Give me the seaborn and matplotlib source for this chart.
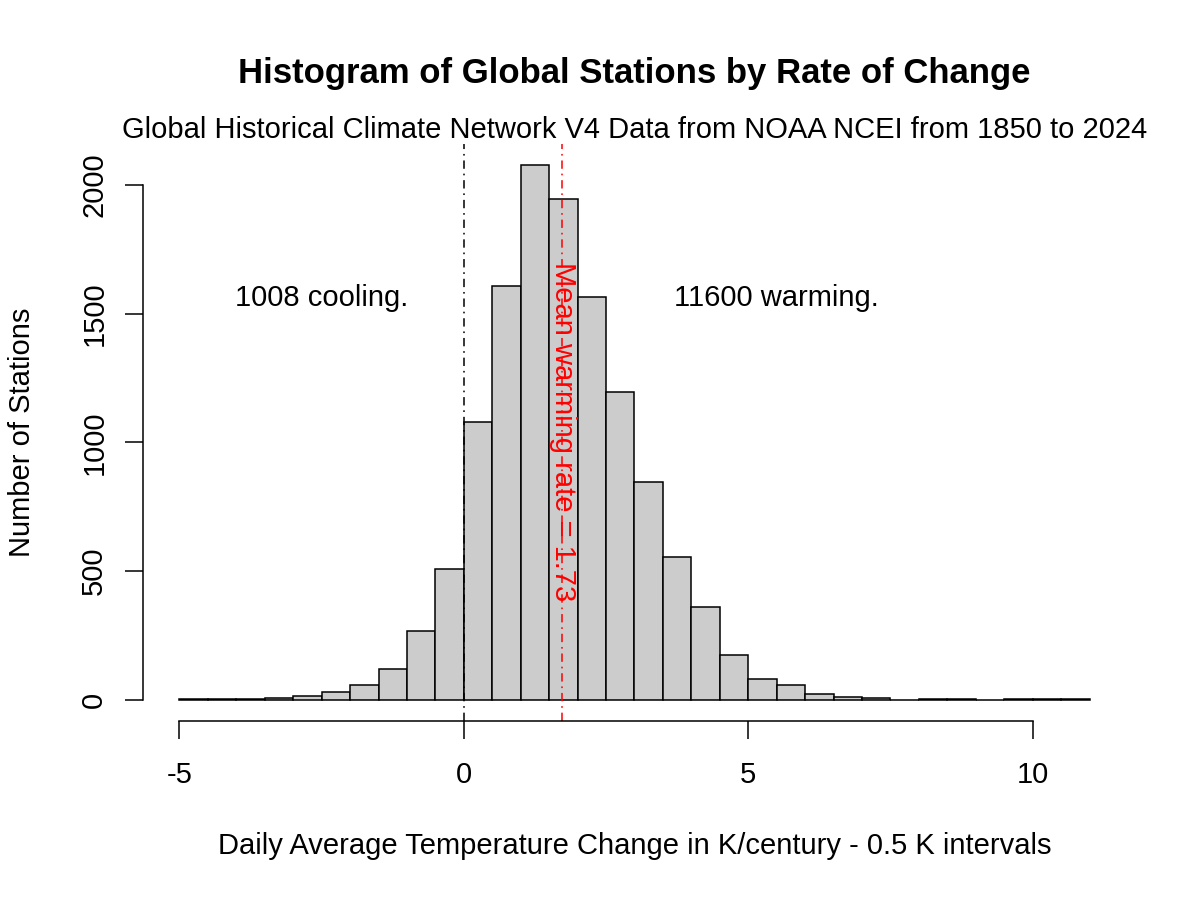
import numpy as np
import pandas as pd
import matplotlib
matplotlib.use("Agg")
import matplotlib.pyplot as plt
import seaborn as sns

# ---- data ----
bin_edges = [round(-5.0 + 0.5 * i, 1) for i in range(33)]   # -5 .. 11 in 0.5 K steps
station_counts = [1, 2, 3, 5, 15, 31, 55, 121, 267, 508,          # -5 .. 0
                  1081, 1609, 2077, 1948, 1566, 1197, 848, 553,    # 0 .. 4
                  362, 173, 82, 55, 22, 12, 7, 0, 2, 2, 0, 1, 2, 1]  # 4 .. 11
mean_rate = 1.73
n_cooling = 1008
n_warming = 11600
x_ticks = [-5, 0, 5, 10]
y_ticks = [0, 500, 1000, 1500, 2000]

title = "Histogram of Global Stations by Rate of Change"
subtitle = "Global Historical Climate Network V4 Data from NOAA NCEI from 1850 to 2024"
xlabel = "Daily Average Temperature Change in K/century - 0.5 K intervals"
ylabel = "Number of Stations"

edges = np.array(bin_edges)
centers = (edges[:-1] + edges[1:]) / 2
df = pd.DataFrame({"rate": centers, "count": station_counts})

sns.set_theme(style="ticks")
plt.rcParams["font.family"] = ["Liberation Sans", "DejaVu Sans"]
plt.rcParams["lines.scale_dashes"] = False
plt.rcParams["text.color"] = "black"
plt.rcParams["axes.labelcolor"] = "black"

fig = plt.figure(figsize=(12, 9), dpi=100)
ax = fig.add_axes([143 / 1200, 1 - 721 / 900, 983 / 1200, 577 / 900])

sns.histplot(data=df, x="rate", weights="count", bins=bin_edges, ax=ax,
             color="#CCCCCC", edgecolor="black", linewidth=1.1, alpha=1)

ymax = max(station_counts)
ax.set_xlim(-5 - 0.04 * 16, 11 + 0.04 * 16)
ax.set_ylim(-0.04 * ymax, ymax * 1.04)

# reference lines
dd = (0, (6, 3.5, 1.2, 3.5))
ax.axvline(0, color="black", lw=1.1, linestyle=dd)
ax.axvline(mean_rate, color="red", lw=1.1, linestyle=dd)

fs = 21
ax.text(-2.5, 1560, f"{n_cooling} cooling.", ha="center", va="center", fontsize=fs,
        color="black")
ax.text(5.5, 1560, f"{n_warming} warming.", ha="center", va="center", fontsize=fs,
        color="black")
ax.text(mean_rate + 0.01, 1040, f"Mean warming rate = {mean_rate}", color="red",
        rotation=-90, ha="center", va="center", fontsize=fs)

# R-style axes
for s in ["top", "right"]:
    ax.spines[s].set_visible(False)
ax.spines["left"].set_bounds(0, 2000)
ax.spines["bottom"].set_bounds(-5, 10)
for s in ["left", "bottom"]:
    ax.spines[s].set_linewidth(1.1)
    ax.spines[s].set_color("black")
ax.set_xticks(x_ticks)
ax.set_yticks(y_ticks)
ax.set_xticklabels([str(t) for t in x_ticks])
ax.set_yticklabels([str(t) for t in y_ticks], rotation=90, va="center")
ax.tick_params(axis="both", direction="out", length=13, width=1.1, colors="black",
               labelsize=fs)
ax.tick_params(axis="x", pad=16)
ax.tick_params(axis="y", pad=12)

ax.set_xlabel(xlabel, fontsize=fs)
ax.set_ylabel(ylabel, fontsize=fs)
ax.xaxis.set_label_coords(0.5, (721 - 846) / 577)
ax.xaxis.label.set_va("center")
ax.yaxis.set_label_coords((22 - 143) / 983, 0.5)
ax.yaxis.label.set_va("center")

cx = (143 + 1126) / 2 / 1200
fig.text(cx, 1 - 73 / 900, title, ha="center", va="center", fontsize=25,
         fontweight="bold", color="black")
fig.text(cx, 1 - 130 / 900, subtitle, ha="center", va="center", fontsize=fs,
         color="black")

fig.savefig("out.png", dpi=100, facecolor="white")
